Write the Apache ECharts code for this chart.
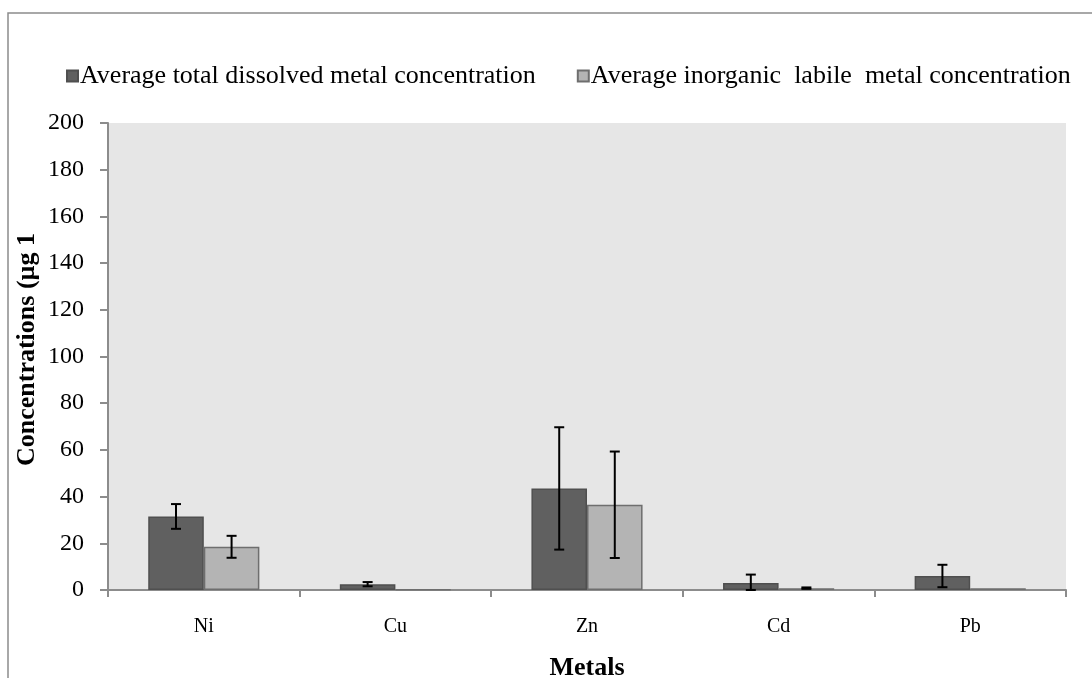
<!DOCTYPE html>
<html>
<head>
<meta charset="utf-8">
<script src="https://cdn.jsdelivr.net/npm/echarts@6/dist/echarts.min.js"></script>
<style>
  html, body { margin: 0; padding: 0; background: #fff; }
  #chart { width: 1092px; height: 678px; }
</style>
</head>
<body>
<div id="chart"></div>
<script>
// Metal concentrations: means and standard deviations per metal
const metals = ['Ni', 'Cu', 'Zn', 'Cd', 'Pb'];
const totalDissolved = [31.5, 2.5, 43.5, 3.0, 6.0];
const totalDissolvedSd = [5.3, 0.9, 26.2, 3.6, 4.8];
const inorganicLabile = [18.5, 0.2, 36.5, 0.8, 0.8];
const inorganicLabileSd = [4.7, 0, 22.8, 0.3, 0];
const yTicks = { min: 0, max: 200, interval: 20 };

const seriesNames = [
  'Average total dissolved metal concentration',
  'Average inorganic  labile  metal concentration'
];
const SERIF = '"Liberation Serif", "Times New Roman", serif';
const CAT_GAP = 0.42;

const chart = echarts.init(document.getElementById('chart'), null, { renderer: 'canvas' });

// Error bars drawn on top of the bars, offset to each bar's centre
function errorBars(means, sds, side) {
  return {
    type: 'custom',
    silent: true,
    z: 10,
    data: means.map((m, i) => [i, m, sds[i]]),
    renderItem: function (params, api) {
      const idx = api.value(0);
      const mean = api.value(1);
      const sd = api.value(2);
      if (!sd) return null;
      const band = api.size([1, 0])[0];
      const bw = band * (1 - CAT_GAP) / 2;
      const cx = api.coord([idx, mean])[0] + side * bw / 2;
      const yTop = api.coord([idx, mean + sd])[1];
      const yBot = api.coord([idx, Math.max(mean - sd, 0)])[1];
      const cap = 5;
      const style = { stroke: '#000', lineWidth: 2 };
      return {
        type: 'group',
        children: [
          { type: 'line', shape: { x1: cx, y1: yTop, x2: cx, y2: yBot }, style },
          { type: 'line', shape: { x1: cx - cap, y1: yTop, x2: cx + cap, y2: yTop }, style },
          { type: 'line', shape: { x1: cx - cap, y1: yBot, x2: cx + cap, y2: yBot }, style }
        ]
      };
    }
  };
}

const option = {
  animation: false,
  backgroundColor: '#fff',
  graphic: [{
    type: 'rect',
    shape: { x: 8, y: 13, width: 1200, height: 1000 },
    style: { fill: 'none', stroke: '#8c8c8c', lineWidth: 1.5 },
    z: -10
  }],
  legend: {
    data: seriesNames,
    left: 61,
    top: 58,
    icon: 'rect',
    itemWidth: 11,
    itemHeight: 11,
    itemGap: 41,
    textStyle: { fontFamily: SERIF, fontSize: 26, color: '#000', padding: [0, 0, 0, -3] }
  },
  grid: {
    left: 108,
    right: 26,
    top: 123,
    bottom: 88,
    outerBoundsMode: 'none',
    containLabel: false,
    show: true,
    backgroundColor: '#e6e6e6',
    borderWidth: 0
  },
  xAxis: {
    type: 'category',
    data: metals,
    name: 'Metals',
    nameLocation: 'middle',
    nameGap: 65,
    nameMoveOverlap: false,
    nameTextStyle: { fontFamily: SERIF, fontSize: 26, fontWeight: 'bold', color: '#000' },
    axisLine: { lineStyle: { color: '#8c8c8c', width: 2 } },
    axisTick: { show: true, length: 7, lineStyle: { color: '#8c8c8c', width: 2 } },
    axisLabel: { fontFamily: SERIF, fontSize: 20, color: '#000', margin: 27 },
    splitLine: { show: false }
  },
  yAxis: {
    type: 'value',
    min: yTicks.min,
    max: yTicks.max,
    interval: yTicks.interval,
    name: 'Concentrations (µg 1',
    nameLocation: 'middle',
    nameRotate: 90,
    nameGap: 68,
    nameMoveOverlap: false,
    nameTextStyle: { fontFamily: SERIF, fontSize: 26, fontWeight: 'bold', color: '#000', padding: [0, 0, 0, 14] },
    axisLine: { show: true, lineStyle: { color: '#8c8c8c', width: 2 } },
    axisTick: { show: true, length: 8, lineStyle: { color: '#8c8c8c', width: 2 } },
    axisLabel: { fontFamily: SERIF, fontSize: 24, color: '#000', margin: 24 },
    splitLine: { show: false }
  },
  series: [
    {
      name: seriesNames[0],
      type: 'bar',
      data: totalDissolved,
      barGap: '0%',
      barCategoryGap: (CAT_GAP * 100) + '%',
      itemStyle: { color: '#606060', borderColor: '#4f4f4f', borderWidth: 1.5 }
    },
    {
      name: seriesNames[1],
      type: 'bar',
      data: inorganicLabile,
      barGap: '0%',
      barCategoryGap: (CAT_GAP * 100) + '%',
      itemStyle: { color: '#b4b4b4', borderColor: '#6e6e6e', borderWidth: 1.5 }
    },
    errorBars(totalDissolved, totalDissolvedSd, -1),
    errorBars(inorganicLabile, inorganicLabileSd, 1)
  ]
};

chart.setOption(option);
</script>
</body>
</html>
